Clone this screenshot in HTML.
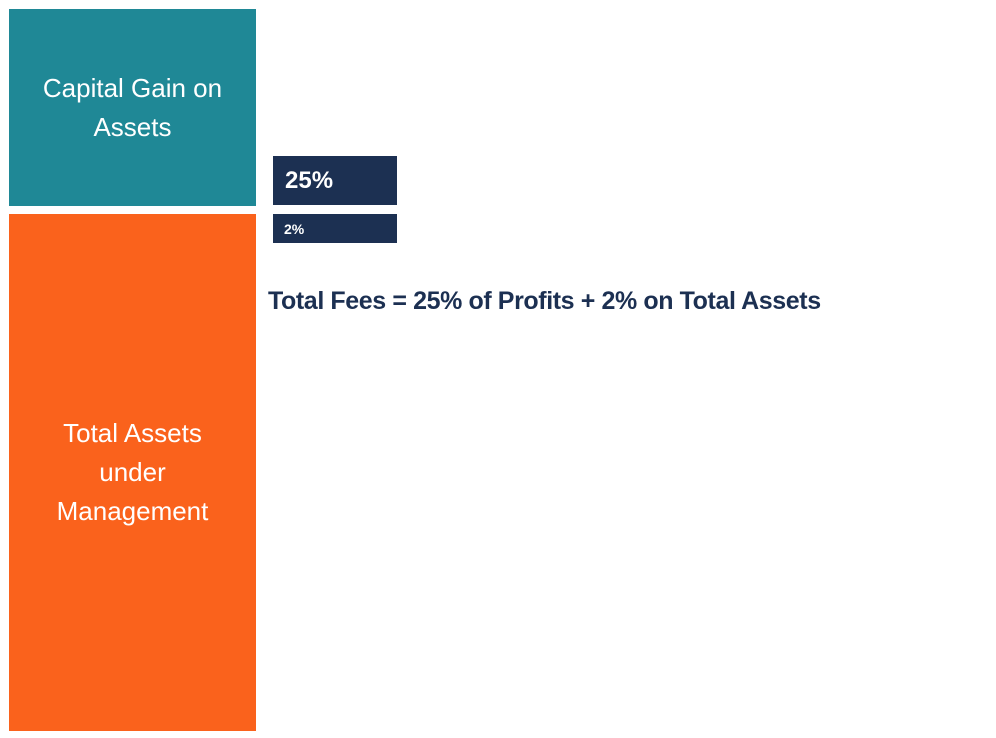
<!DOCTYPE html>
<html><head><meta charset="utf-8"><style>
body{margin:0;width:996px;height:738px;background:#fff;position:relative;font-family:"Liberation Sans",sans-serif;overflow:hidden}
div.b{position:absolute;color:#fff;display:flex;align-items:center;justify-content:center;text-align:center}
</style></head><body>
<div class="b" style="left:9px;top:9px;width:247px;height:197px;background:#1F8896;font-size:26px;line-height:39px">Capital Gain on<br>Assets</div>
<div class="b" style="left:9px;top:214px;width:247px;height:517px;background:#FA621C;font-size:26px;line-height:39px">Total Assets<br>under<br>Management</div>
<div class="b" style="left:273px;top:156px;width:124px;height:49px;background:#1C3052;justify-content:flex-start;padding-left:12px;box-sizing:border-box;font-size:24px;font-weight:bold">25%</div>
<div class="b" style="left:273px;top:214px;width:124px;height:29px;background:#1C3052;justify-content:flex-start;padding-left:11px;box-sizing:border-box;font-size:14px;font-weight:bold">2%</div>
<div style="position:absolute;left:268px;top:287px;font-size:25px;font-weight:bold;color:#1C3052;letter-spacing:-0.4px;white-space:nowrap">Total Fees = 25% of Profits + 2% on Total Assets</div>
</body></html>
